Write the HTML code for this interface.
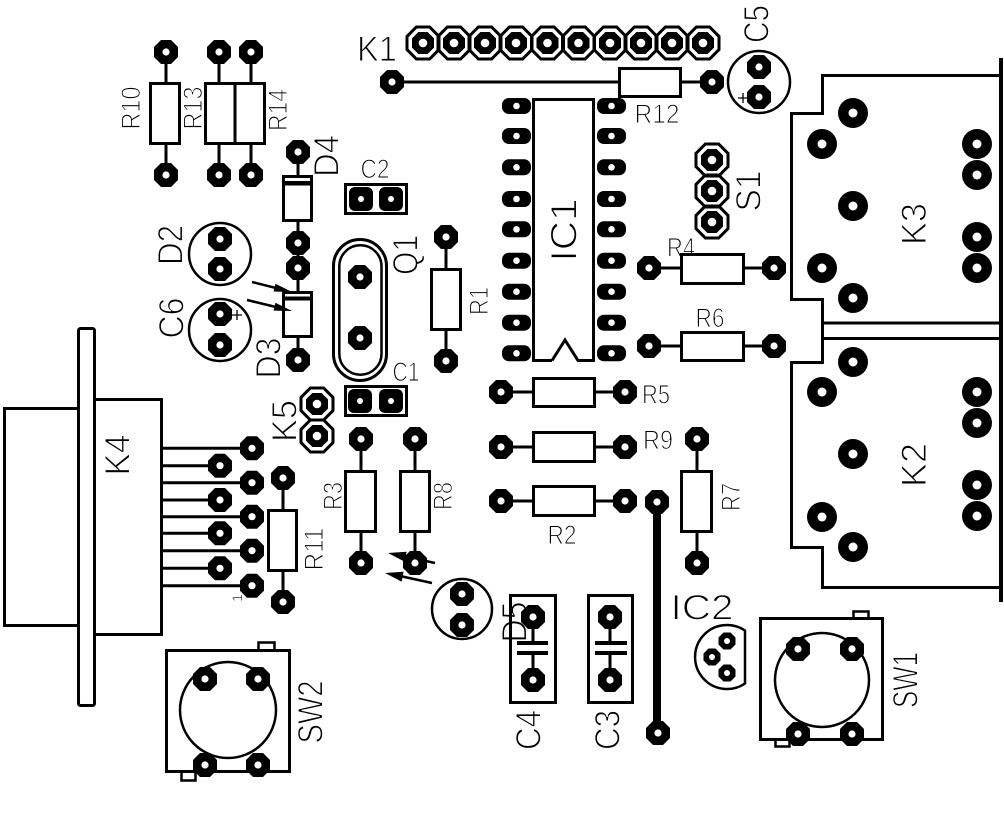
<!DOCTYPE html>
<html><head><meta charset="utf-8"><style>
html,body{margin:0;padding:0;background:#fff;}
svg{display:block}
text{font-family:"Liberation Sans",sans-serif;text-anchor:middle;fill:#000;stroke:#fff;stroke-width:1.1px;}
.s{font-size:27px}
.b{font-size:35px}
</style></head><body>
<svg width="1004" height="817" viewBox="0 0 1004 817" xmlns="http://www.w3.org/2000/svg">
<defs>
<g id="p"><polygon points="-5,-12 5,-12 12,-5 12,5 5,12 -5,12 -12,5 -12,-5"/><circle r="3.6" fill="#fff"/></g>
<g id="k"><circle r="15"/><circle r="4.5" fill="#fff"/></g>
<g id="d"><polygon points="-6.6,-16 6.6,-16 16,-6.6 16,6.6 6.6,16 -6.6,16 -16,6.6 -16,-6.6" fill="none" stroke="#000" stroke-width="3"/><polygon points="-4.6,-11 4.6,-11 11,-4.6 11,4.6 4.6,11 -4.6,11 -11,4.6 -11,-4.6"/><circle r="4.3" fill="#fff"/></g>
<g id="o"><rect x="-14.5" y="-8" width="29" height="16" rx="7"/><circle r="3.3" fill="#fff"/></g>
<g id="m"><polygon points="-3.5,-8.5 3.5,-8.5 8.5,-3.5 8.5,3.5 3.5,8.5 -3.5,8.5 -8.5,3.5 -8.5,-3.5"/><circle r="3" fill="#fff"/></g>
<g id="c"><rect x="-12" y="-12" width="24" height="24" rx="6"/><circle r="3" fill="#fff"/></g>
</defs>

<!-- labels -->
<g class="s" lengthAdjust="spacingAndGlyphs">
<text transform="translate(130,108) rotate(-90)" y="9.8" textLength="43" lengthAdjust="spacingAndGlyphs">R10</text>
<text transform="translate(192,108) rotate(-90)" y="9.8" textLength="43" lengthAdjust="spacingAndGlyphs">R13</text>
<text transform="translate(277,110) rotate(-90)" y="9.8" textLength="42" lengthAdjust="spacingAndGlyphs">R14</text>
<text transform="translate(478,301) rotate(-90)" y="9.8" textLength="28" lengthAdjust="spacingAndGlyphs">R1</text>
<text transform="translate(332,496) rotate(-90)" y="9.8" textLength="28" lengthAdjust="spacingAndGlyphs">R3</text>
<text transform="translate(442,496) rotate(-90)" y="9.8" textLength="28" lengthAdjust="spacingAndGlyphs">R8</text>
<text transform="translate(730,497) rotate(-90)" y="9.8" textLength="28" lengthAdjust="spacingAndGlyphs">R7</text>
<text transform="translate(313,549) rotate(-90)" y="9.8" textLength="43" lengthAdjust="spacingAndGlyphs">R11</text>
<text x="657" y="122.8" textLength="45" lengthAdjust="spacingAndGlyphs">R12</text>
<text x="681" y="256.5" textLength="28" lengthAdjust="spacingAndGlyphs">R4</text>
<text x="710" y="326.8" textLength="29" lengthAdjust="spacingAndGlyphs">R6</text>
<text x="656" y="403.5" textLength="28" lengthAdjust="spacingAndGlyphs">R5</text>
<text x="658" y="448.8" textLength="30" lengthAdjust="spacingAndGlyphs">R9</text>
<text x="562" y="543.8" textLength="29" lengthAdjust="spacingAndGlyphs">R2</text>
<text x="375" y="177.8" textLength="29" lengthAdjust="spacingAndGlyphs">C2</text>
<text x="406" y="380.8" textLength="27" lengthAdjust="spacingAndGlyphs">C1</text>
</g>
<g class="b">
<text x="377" y="61" textLength="40" lengthAdjust="spacingAndGlyphs">K1</text>
<text x="702" y="619.5" textLength="63" lengthAdjust="spacingAndGlyphs">IC2</text>
<text transform="translate(326,156) rotate(-90)" y="12.5" textLength="42" lengthAdjust="spacingAndGlyphs">D4</text>
<text transform="translate(170,245) rotate(-90)" y="12.5" textLength="40" lengthAdjust="spacingAndGlyphs">D2</text>
<text transform="translate(171,318) rotate(-90)" y="12.5" textLength="41" lengthAdjust="spacingAndGlyphs">C6</text>
<text transform="translate(268,358) rotate(-90)" y="12.5" textLength="41" lengthAdjust="spacingAndGlyphs">D3</text>
<text transform="translate(405,255) rotate(-90)" y="12.5" textLength="40" lengthAdjust="spacingAndGlyphs">Q1</text>
<text transform="translate(563,230) rotate(-90)" y="13.5" textLength="63" lengthAdjust="spacingAndGlyphs" style="font-size:37px">IC1</text>
<text transform="translate(748,191) rotate(-90)" y="12.5" textLength="41" lengthAdjust="spacingAndGlyphs">S1</text>
<text transform="translate(756,24) rotate(-90)" y="12.5" textLength="38" lengthAdjust="spacingAndGlyphs">C5</text>
<text transform="translate(913,224) rotate(-90)" y="13" textLength="42" lengthAdjust="spacingAndGlyphs">K3</text>
<text transform="translate(913,465) rotate(-90)" y="13" textLength="44" lengthAdjust="spacingAndGlyphs">K2</text>
<text transform="translate(117,455) rotate(-90)" y="12.5" textLength="41" lengthAdjust="spacingAndGlyphs">K4</text>
<text transform="translate(284,421) rotate(-90)" y="12.5" textLength="42" lengthAdjust="spacingAndGlyphs">K5</text>
<text transform="translate(514,622) rotate(-90)" y="12.5" textLength="41" lengthAdjust="spacingAndGlyphs">D5</text>
<text transform="translate(528,730) rotate(-90)" y="12.5" textLength="40" lengthAdjust="spacingAndGlyphs">C4</text>
<text transform="translate(607,730) rotate(-90)" y="12.5" textLength="40" lengthAdjust="spacingAndGlyphs">C3</text>
<text transform="translate(905,680) rotate(-90)" y="12.5" textLength="56" lengthAdjust="spacingAndGlyphs">SW1</text>
<text transform="translate(310,712) rotate(-90)" y="12.5" textLength="63" lengthAdjust="spacingAndGlyphs">SW2</text>
</g>
<text transform="translate(237,598) rotate(-90)" y="5" style="font-size:14px;stroke-width:0.4px">1</text>

<!-- leads -->
<g stroke="#000" stroke-width="3" fill="none">
<path d="M166,52V83.5M166,143.5V175M219,52V83.5M219,143.5V175M251,52V83.5M251,143.5V175"/>
<path d="M298,152V176.5M298,220.5V292.5M298,336.5V360"/>
<path d="M446,237V269.5M446,329.5V361"/>
<path d="M392,82H619.5M680.5,82H712"/>
<path d="M649,268H681.5M743.5,268H774M649,346H681.5M743.5,346H774"/>
<path d="M501,392H533.5M594.5,392H625M501,447H533.5M594.5,447H625M501,501H533.5M594.5,501H625"/>
<path d="M361,439V471.5M361,531.5V563M415,439V471.5M415,531.5V563M697,439V471.5M697,531.5V563M283,478V510.5M283,570.5V602"/>
<path d="M533,617V643M533,653V680M610,617V643M610,653V680"/>
<path d="M162,448.3H252M162,465.7H220M162,482.7H252M162,500H220M162,516.7H252M162,533.3H220M162,550.7H252M162,568.3H220M162,585.7H252"/>
<path d="M517,643H548M517,653H548M595,643H627M595,653H627" stroke-width="4"/>
<path d="M657,502V733" stroke-width="8"/>

<!-- bodies -->
<rect x="150.5" y="83.5" width="29" height="60"/>
<rect x="205.5" y="83.5" width="59" height="60"/><path d="M235,83.5V143.5"/>
<rect x="283.5" y="176.5" width="28" height="44"/><path d="M283.5,183.3H311.5" stroke-width="4.5"/>
<rect x="283.5" y="292.5" width="28" height="44"/><path d="M283.5,298.5H311.5" stroke-width="4"/>
<rect x="345.5" y="184.5" width="61" height="29"/>
<rect x="345.5" y="386.5" width="61" height="29"/>
<rect x="431.5" y="269.5" width="29" height="60"/>
<rect x="619.5" y="68.5" width="61" height="28"/>
<rect x="681.5" y="254.5" width="62" height="29"/>
<rect x="681.5" y="332.5" width="62" height="28"/>
<rect x="533.5" y="378.5" width="61" height="28"/>
<rect x="533.5" y="432.5" width="61" height="29"/>
<rect x="533.5" y="486.5" width="61" height="29"/>
<rect x="345.5" y="471.5" width="30" height="60"/>
<rect x="400.5" y="471.5" width="29" height="60"/>
<rect x="681.5" y="471.5" width="30" height="60"/>
<rect x="268.5" y="510.5" width="28" height="60"/>
<rect x="510.5" y="595.5" width="45" height="107"/>
<rect x="588.5" y="595.5" width="44" height="107"/>
<rect x="760.5" y="618.5" width="122" height="121"/>
<rect x="166.5" y="650.5" width="123" height="121"/>
<path d="M853.5,618V611.5H868.5V618M775.5,741V746.5H789.5V741" stroke-width="2.5"/>
<path d="M258.5,650V642.5H274.5V650M181.5,772V780.5H195.5V772" stroke-width="2.5"/>
<path d="M552,360.5H533.5V99.5H593.5V360.5H578L565,340L552,360.5"/>
<path d="M77,408.5H4.5V625.5H77"/>
<rect x="78.5" y="328.5" width="16" height="377" rx="2"/>
<path d="M96,399.5H161.5V634.5H96"/>
<path d="M1001,75.5H822.5V113.5H791.5V299.5H822.5V362.5H791.5V547.5H822.5V587.5H1001M822.5,323H1001M822.5,338.5H1001"/>
<path d="M1001,58V602" stroke-width="4"/>
<rect x="333.5" y="239.5" width="53" height="141" rx="26.5"/>
<rect x="339.3" y="245.3" width="42.2" height="129.4" rx="21" stroke-width="2.5"/>
<g stroke-width="2.5">
<circle cx="220" cy="254" r="31"/>
<circle cx="220" cy="330" r="31"/>
<circle cx="759" cy="82" r="31"/>
<circle cx="462" cy="609" r="30"/>
<circle cx="822" cy="680" r="47"/>
<circle cx="228" cy="710" r="48"/>
<path d="M745,630.5A32,32 0 1 0 745,683.5Z"/>
</g>
<path d="M232,315H242M237,310V320M738,98H748M743,93V103" stroke-width="1.3"/>
<path d="M252,282L280,289M247,300L280,308M435,563L403,556M432,583L400,576" stroke-width="2.5"/>
</g>
<g>
<polygon points="292,292 273.5,291.5 275.5,283.7"/>
<polygon points="292,311 273.6,310.6 275.4,302.8"/>
<polygon points="388,553 406.6,551.8 404.6,561.6"/>
<polygon points="385,573 403.6,571.8 401.6,581.6"/>
</g>

<!-- pads -->
<g>
<use href="#p" x="166" y="52"/><use href="#p" x="166" y="175"/>
<use href="#p" x="219" y="52"/><use href="#p" x="219" y="175"/>
<use href="#p" x="251" y="52"/><use href="#p" x="251" y="175"/>
<use href="#p" x="298" y="152"/><use href="#p" x="298" y="243"/><use href="#p" x="298" y="268"/><use href="#p" x="298" y="360"/>
<use href="#p" x="220" y="239"/><use href="#p" x="220" y="269"/>
<use href="#p" x="220" y="314"/><use href="#p" x="220" y="345"/>
<use href="#p" x="360" y="277"/><use href="#p" x="360" y="338"/>
<use href="#p" x="446" y="237"/><use href="#p" x="446" y="361"/>
<use href="#p" x="392" y="82"/><use href="#p" x="712" y="82"/>
<use href="#p" x="759" y="67"/><use href="#p" x="759" y="97"/>
<use href="#p" x="649" y="268"/><use href="#p" x="774" y="268"/>
<use href="#p" x="649" y="346"/><use href="#p" x="774" y="346"/>
<use href="#p" x="501" y="392"/><use href="#p" x="625" y="392"/>
<use href="#p" x="501" y="447"/><use href="#p" x="625" y="447"/>
<use href="#p" x="501" y="501"/><use href="#p" x="625" y="501"/>
<use href="#p" x="657" y="502"/><use href="#p" x="658" y="733"/>
<use href="#p" x="697" y="439"/><use href="#p" x="697" y="563"/>
<use href="#p" x="361" y="439"/><use href="#p" x="361" y="563"/>
<use href="#p" x="415" y="439"/><use href="#p" x="415" y="563"/>
<use href="#p" x="283" y="478"/><use href="#p" x="283" y="602"/>
<use href="#p" x="252" y="448.3"/><use href="#p" x="252" y="482.7"/><use href="#p" x="252" y="516.7"/><use href="#p" x="252" y="550.7"/><use href="#p" x="252" y="585.7"/>
<use href="#p" x="220" y="465.7"/><use href="#p" x="220" y="500"/><use href="#p" x="220" y="533.3"/><use href="#p" x="220" y="568.3"/>
<use href="#p" x="462" y="594"/><use href="#p" x="462" y="625"/>
<use href="#p" x="533" y="617"/><use href="#p" x="533" y="680"/>
<use href="#p" x="610" y="617"/><use href="#p" x="610" y="680"/>
<use href="#p" x="798" y="649"/><use href="#p" x="852" y="649"/><use href="#p" x="798" y="734"/><use href="#p" x="852" y="734"/>
<use href="#p" x="205" y="679"/><use href="#p" x="258" y="679"/><use href="#p" x="205" y="765"/><use href="#p" x="258" y="765"/>

<use href="#d" x="423" y="43"/><use href="#d" x="454" y="43"/><use href="#d" x="485" y="43"/><use href="#d" x="516" y="43"/><use href="#d" x="547.5" y="43"/>
<use href="#d" x="578.5" y="43"/><use href="#d" x="610" y="43"/><use href="#d" x="641" y="43"/><use href="#d" x="672" y="43"/><use href="#d" x="703" y="43"/>
<use href="#d" x="712" y="160"/><use href="#d" x="712" y="191"/><use href="#d" x="712" y="222"/>
<use href="#d" x="317" y="404"/><use href="#d" x="317" y="436"/>

<use href="#o" x="516.5" y="106"/><use href="#o" x="516.5" y="136"/><use href="#o" x="516.5" y="167.3"/><use href="#o" x="516.5" y="199"/><use href="#o" x="516.5" y="229.3"/><use href="#o" x="516.5" y="260.7"/><use href="#o" x="516.5" y="291.7"/><use href="#o" x="516.5" y="322.7"/><use href="#o" x="516.5" y="353.3"/>
<use href="#o" x="611.5" y="106"/><use href="#o" x="611.5" y="136"/><use href="#o" x="611.5" y="167.3"/><use href="#o" x="611.5" y="199"/><use href="#o" x="611.5" y="229.3"/><use href="#o" x="611.5" y="260.7"/><use href="#o" x="611.5" y="291.7"/><use href="#o" x="611.5" y="322.7"/><use href="#o" x="611.5" y="353.3"/>

<use href="#m" x="727" y="641"/><use href="#m" x="712" y="657"/><use href="#m" x="727" y="673"/>

<use href="#c" x="361" y="199"/><use href="#c" x="391" y="199"/>
<use href="#c" x="360" y="401"/><use href="#c" x="391" y="401"/>

<use href="#k" x="853" y="113"/><use href="#k" x="822" y="144"/><use href="#k" x="853" y="206"/><use href="#k" x="822" y="268"/><use href="#k" x="853" y="298"/>
<use href="#k" x="977" y="144"/><use href="#k" x="977" y="175"/><use href="#k" x="977" y="237"/><use href="#k" x="977" y="268"/>
<use href="#k" x="853" y="362"/><use href="#k" x="822" y="392"/><use href="#k" x="853" y="454"/><use href="#k" x="822" y="517"/><use href="#k" x="853" y="547"/>
<use href="#k" x="977" y="392"/><use href="#k" x="977" y="423"/><use href="#k" x="977" y="485"/><use href="#k" x="977" y="516"/>
</g>
</svg>
</body></html>
